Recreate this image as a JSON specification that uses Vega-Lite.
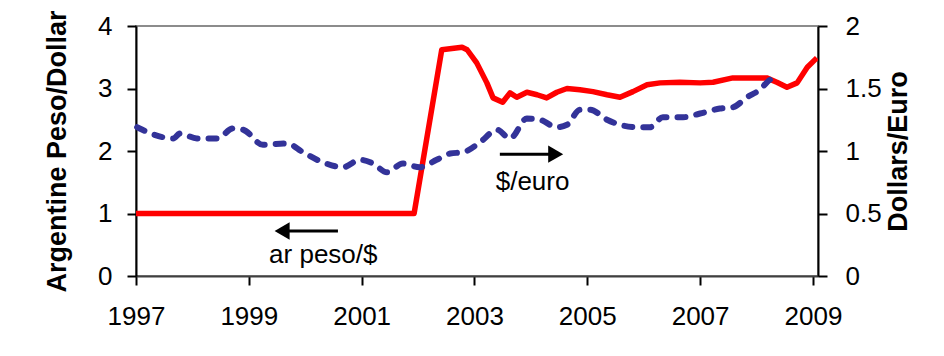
{
  "$schema": "https://vega.github.io/schema/vega-lite/v6.json",
  "width": 682,
  "height": 250,
  "autosize": {"type": "none"},
  "padding": {"left": 136, "top": 26, "right": 126, "bottom": 80},
  "background": "white",
  "config": {
    "view": {"stroke": "#8c8c8c", "strokeWidth": 2},
    "axis": {
      "labelFont": "Liberation Sans",
      "titleFont": "Liberation Sans",
      "labelColor": "black",
      "titleColor": "black",
      "labelFontSize": 26,
      "titleFontSize": 27,
      "titleFontWeight": "bold",
      "grid": false,
      "domainWidth": 2,
      "domainColor": "black",
      "tickWidth": 2,
      "tickSize": 9,
      "tickColor": "black"
    }
  },
  "datasets": {
    "peso": [
      {"year": 1997.0, "value": 1.0},
      {"year": 2001.93, "value": 1.0},
      {"year": 2002.42, "value": 3.62},
      {"year": 2002.6, "value": 3.64},
      {"year": 2002.78, "value": 3.66},
      {"year": 2002.87, "value": 3.62},
      {"year": 2003.04, "value": 3.41},
      {"year": 2003.22, "value": 3.09},
      {"year": 2003.33, "value": 2.85},
      {"year": 2003.5, "value": 2.78},
      {"year": 2003.63, "value": 2.93},
      {"year": 2003.75, "value": 2.86},
      {"year": 2003.93, "value": 2.94},
      {"year": 2004.11, "value": 2.9},
      {"year": 2004.28, "value": 2.85},
      {"year": 2004.46, "value": 2.94},
      {"year": 2004.64, "value": 3.0},
      {"year": 2004.87, "value": 2.98},
      {"year": 2005.1, "value": 2.95},
      {"year": 2005.35, "value": 2.9},
      {"year": 2005.58, "value": 2.86},
      {"year": 2005.81, "value": 2.95},
      {"year": 2006.06, "value": 3.06},
      {"year": 2006.29, "value": 3.09},
      {"year": 2006.64, "value": 3.1},
      {"year": 2007.0, "value": 3.09},
      {"year": 2007.23, "value": 3.1},
      {"year": 2007.58, "value": 3.17},
      {"year": 2007.94, "value": 3.17},
      {"year": 2008.18, "value": 3.17},
      {"year": 2008.36, "value": 3.1},
      {"year": 2008.54, "value": 3.02},
      {"year": 2008.72, "value": 3.09},
      {"year": 2008.9, "value": 3.34},
      {"year": 2009.07, "value": 3.49}
    ],
    "euro": [
      {"year": 1997.02, "value": 1.19},
      {"year": 1997.48, "value": 1.11},
      {"year": 1997.66, "value": 1.1},
      {"year": 1997.78, "value": 1.14},
      {"year": 1998.08, "value": 1.1},
      {"year": 1998.44, "value": 1.1},
      {"year": 1998.72, "value": 1.18},
      {"year": 1998.9, "value": 1.17},
      {"year": 1999.25, "value": 1.05},
      {"year": 1999.68, "value": 1.06},
      {"year": 1999.96, "value": 0.99},
      {"year": 2000.31, "value": 0.91},
      {"year": 2000.67, "value": 0.87},
      {"year": 2000.97, "value": 0.93},
      {"year": 2001.2, "value": 0.9},
      {"year": 2001.45, "value": 0.83},
      {"year": 2001.73, "value": 0.9},
      {"year": 2002.03, "value": 0.87},
      {"year": 2002.33, "value": 0.93},
      {"year": 2002.57, "value": 0.98},
      {"year": 2002.8, "value": 0.99},
      {"year": 2003.1, "value": 1.07},
      {"year": 2003.4, "value": 1.17},
      {"year": 2003.63, "value": 1.1},
      {"year": 2003.93, "value": 1.26},
      {"year": 2004.16, "value": 1.25},
      {"year": 2004.46, "value": 1.19},
      {"year": 2004.64, "value": 1.21},
      {"year": 2004.87, "value": 1.33},
      {"year": 2005.05, "value": 1.33},
      {"year": 2005.35, "value": 1.25},
      {"year": 2005.58, "value": 1.21},
      {"year": 2005.88, "value": 1.19},
      {"year": 2006.11, "value": 1.19},
      {"year": 2006.34, "value": 1.27},
      {"year": 2006.7, "value": 1.27},
      {"year": 2007.0, "value": 1.3},
      {"year": 2007.35, "value": 1.34},
      {"year": 2007.58, "value": 1.35},
      {"year": 2007.83, "value": 1.43},
      {"year": 2008.06, "value": 1.49},
      {"year": 2008.24, "value": 1.57},
      {"year": 2008.33, "value": 1.58}
    ],
    "labels": [
      {"label": "ar peso/$", "year": 2000.32, "value": 0.21},
      {"label": "$/euro", "year": 2004.03, "value": 1.38}
    ],
    "shafts": [
      {"from": 2000.58, "to": 1999.55, "value": 0.72},
      {"from": 2003.45, "to": 2004.48, "value": 1.95}
    ],
    "heads": [
      {"year": 1999.59, "value": 0.72, "shape": "triangle-left"},
      {"year": 2004.44, "value": 1.95, "shape": "triangle-right"}
    ]
  },
  "layer": [
    {
      "layer": [
        {
          "data": {"name": "peso"},
          "mark": {"type": "line", "color": "#ff0000", "strokeWidth": 5.5, "strokeJoin": "round", "clip": true},
          "encoding": {
            "x": {
              "field": "year", "type": "quantitative",
              "scale": {"domain": [1997, 2009.09], "nice": false, "zero": false},
              "axis": {"values": [1997, 1999, 2001, 2003, 2005, 2007, 2009], "format": "d", "title": null, "labelPadding": 18, "domainColor": "#404040", "labelFlush": false}
            },
            "y": {
              "field": "value", "type": "quantitative",
              "scale": {"domain": [0, 4], "nice": false},
              "axis": {"values": [0, 1, 2, 3, 4], "format": "d", "title": "Argentine Peso/Dollar", "labelPadding": 15, "titleBaseline": "middle", "titleX": -79, "titleY": 125, "titleAngle": 270}
            }
          }
        },
        {
          "data": {"name": "shafts"},
          "mark": {"type": "rule", "color": "black", "strokeWidth": 3},
          "encoding": {
            "x": {"field": "from", "type": "quantitative"},
            "x2": {"field": "to"},
            "y": {"field": "value", "type": "quantitative"}
          }
        },
        {
          "data": {"name": "heads"},
          "mark": {"type": "point", "filled": true, "color": "black", "opacity": 1, "size": 300},
          "encoding": {
            "x": {"field": "year", "type": "quantitative"},
            "y": {"field": "value", "type": "quantitative"},
            "shape": {"field": "shape", "type": "nominal", "scale": null, "legend": null}
          }
        },
        {
          "data": {"name": "labels"},
          "mark": {"type": "text", "font": "Liberation Sans", "fontSize": 26, "color": "black", "align": "center", "baseline": "alphabetic"},
          "encoding": {
            "x": {"field": "year", "type": "quantitative"},
            "y": {"field": "value", "type": "quantitative"},
            "text": {"field": "label"}
          }
        }
      ]
    },
    {
      "data": {"name": "euro"},
      "mark": {"type": "line", "color": "#333399", "strokeWidth": 6, "strokeDash": [8, 11], "strokeCap": "round", "interpolate": "monotone"},
      "encoding": {
        "x": {"field": "year", "type": "quantitative"},
        "y": {
          "field": "value", "type": "quantitative",
          "scale": {"domain": [0, 2], "nice": false},
          "axis": {"orient": "right", "values": [0, 0.5, 1, 1.5, 2], "format": ".1~f", "title": "Dollars/Euro", "labelPadding": 18, "titleBaseline": "middle", "titleX": 80, "titleY": 125, "titleAngle": 270}
        }
      }
    }
  ],
  "resolve": {"scale": {"y": "independent"}}
}
